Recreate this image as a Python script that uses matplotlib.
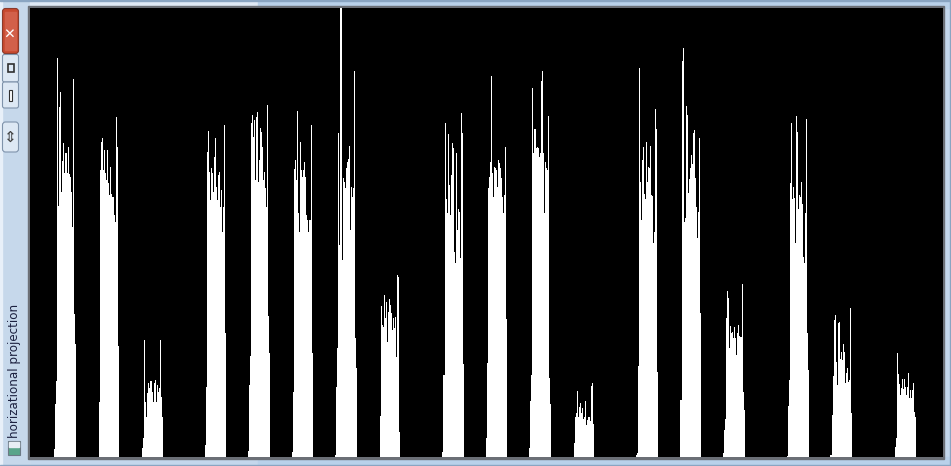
import numpy as np
import matplotlib
matplotlib.use("Agg")
import matplotlib.pyplot as plt
from matplotlib.patches import Rectangle, FancyBboxPatch

# histogram columns: (first column index, column heights in px), one entry per character
starts = [24, 69, 112, 175, 218, 262, 305, 350, 412, 456, 499, 544, 606, 650, 693, 757, 800, 865]

peak01 = [8, 53, 76, 399, 251, 350, 365, 265, 296, 314, 284, 304, 304, 284, 310, 283, 280, 265, 230, 378, 143, 113]
peak02 = [55, 287, 315, 319, 287, 307, 284, 277, 307, 274, 262, 290, 263, 260, 260, 242, 235, 340, 310, 111]
peak03 = [9, 19, 117, 55, 40, 64, 74, 69, 76, 76, 65, 55, 74, 77, 55, 72, 65, 69, 117, 60, 40]
peak04 = [12, 70, 305, 326, 285, 257, 289, 284, 265, 300, 319, 270, 257, 282, 285, 250, 267, 225, 250, 332, 124]
peak05 = [6, 72, 101, 334, 342, 320, 337, 277, 340, 345, 275, 297, 329, 325, 310, 277, 285, 269, 250, 352, 141, 104]
peak06 = [5, 65, 288, 297, 277, 346, 244, 225, 315, 287, 280, 287, 295, 280, 242, 237, 225, 237, 237, 332, 104]
peak07 = [2, 70, 109, 324, 212, 449, 449, 197, 279, 275, 269, 289, 295, 298, 311, 227, 270, 260, 269, 386, 119, 89]
peak08 = [41, 151, 132, 130, 162, 139, 155, 115, 145, 158, 152, 144, 127, 139, 129, 140, 100, 182, 180, 25]
peak09 = [5, 82, 82, 334, 258, 244, 323, 272, 242, 282, 314, 309, 205, 194, 304, 227, 248, 245, 199, 344, 324, 93]
peak10 = [19, 94, 269, 280, 295, 381, 284, 260, 290, 289, 287, 270, 297, 294, 289, 279, 260, 244, 262, 310, 138]
peak11 = [9, 56, 82, 369, 304, 328, 328, 309, 310, 309, 300, 304, 376, 386, 304, 244, 295, 289, 287, 341, 79, 53]
peak12 = [14, 40, 44, 66, 40, 50, 54, 44, 49, 38, 40, 56, 32, 37, 40, 40, 36, 71, 74, 33]
peak13 = [2, 4, 91, 389, 275, 237, 297, 310, 263, 258, 315, 275, 290, 289, 311, 262, 261, 214, 225, 348, 328, 85]
peak14 = [57, 57, 396, 409, 235, 239, 351, 342, 264, 278, 289, 302, 293, 324, 327, 279, 250, 219, 245, 319, 144]
peak15 = [4, 27, 38, 139, 166, 159, 109, 131, 124, 125, 119, 130, 119, 102, 124, 132, 121, 120, 120, 173, 65, 47]
peak16 = [1, 51, 77, 274, 334, 258, 270, 259, 214, 341, 325, 248, 262, 260, 275, 253, 200, 194, 244, 338, 124, 87]
peak17 = [2, 2, 42, 81, 137, 142, 95, 72, 134, 135, 98, 105, 97, 113, 105, 74, 84, 89, 75, 77, 149, 44]
peak18 = [10, 19, 104, 83, 73, 62, 69, 78, 68, 78, 70, 62, 70, 84, 59, 67, 59, 67, 74, 45, 40]

peaks = [peak01, peak02, peak03, peak04, peak05, peak06, peak07, peak08, peak09,
         peak10, peak11, peak12, peak13, peak14, peak15, peak16, peak17, peak18]

title = "horizational projection"

W, H = 951, 466
img_w, img_h = 913, 449

# build the projection array
proj = np.zeros(img_w)
for s, p in zip(starts, peaks):
    proj[s:s + len(p)] = p

fig = plt.figure(figsize=(W / 100, H / 100), dpi=100)
fig.patch.set_facecolor("#c4d7ec")

def px(x0, y0, w, h):
    # window pixel box -> figure fraction
    return (x0 / W, 1 - (y0 + h) / H, w / W, h / H)

# window frame bits
frame = fig.add_axes([0, 0, 1, 1])
frame.set_xlim(0, W)
frame.set_ylim(H, 0)
frame.axis("off")
frame.add_patch(Rectangle((0, 0), W, H, color="#c4d7ec"))
frame.add_patch(Rectangle((0, 0), 30, H, color="#c6d8eb"))
frame.add_patch(Rectangle((0, 0), 2, H, color="#e8f0f9"))
frame.add_patch(Rectangle((30, 0), 228, 8, color="#dfe9f5"))
frame.add_patch(Rectangle((258, 0), W - 258, 8, color="#b9d1ea"))
frame.add_patch(Rectangle((258, 457), W - 258, 9, color="#b9d1ea"))
frame.add_patch(Rectangle((0, 0), W, 1.2, color="#8aa5c2"))
frame.add_patch(Rectangle((W - 1.5, 0), 1.5, H, color="#8aa5c2"))
frame.add_patch(Rectangle((0, H - 1.5), W, 1.5, color="#8aa5c2"))
frame.add_patch(Rectangle((28, 6), W - 35, 453, color="#6b6f76"))

# buttons on the rotated title bar
frame.add_patch(FancyBboxPatch((2.5, 8.5), 16, 45, boxstyle="round,pad=0,rounding_size=3",
                               fc="#c7492f", ec="#8a3a2c", lw=0.8))
frame.add_patch(Rectangle((5, 12), 11, 38, color="#d2604a"))
frame.text(10.5, 31, "✕", color="white", fontsize=10, ha="center", va="center",
           rotation=90, fontweight="bold")
for y0, y1 in [(54.5, 82), (82, 108)]:
    frame.add_patch(FancyBboxPatch((2.5, y0), 16, y1 - y0, boxstyle="round,pad=0,rounding_size=2",
                                   fc="#dde8f4", ec="#7f93ab", lw=0.8))
frame.add_patch(Rectangle((7.5, 64), 6, 8, fc="none", ec="#303030", lw=1.2))
frame.add_patch(Rectangle((9, 90), 2.5, 11, fc="white", ec="#303030", lw=0.8))
frame.add_patch(FancyBboxPatch((2.5, 122), 16, 30, boxstyle="round,pad=0,rounding_size=3",
                               fc="#dde8f4", ec="#7f93ab", lw=0.8))
frame.text(10.5, 137.5, "⇕", color="#404040", fontsize=11, ha="center", va="center")
frame.add_patch(Rectangle((8, 441), 12, 14, fc="#5aa58a", ec="#6c7a86", lw=0.8))
frame.add_patch(Rectangle((9, 442), 10, 5, color="#e8eef4"))
frame.text(14.5, 438, title, rotation=90, ha="center", va="bottom", fontsize=8.6,
           color="#1c2140")

# the projection image
ax = fig.add_axes(px(30, 8, img_w, img_h))
ax.set_facecolor("black")
ax.bar(np.arange(img_w), proj, width=1.0, align="edge", color="white", linewidth=0)
ax.set_xlim(0, img_w)
ax.set_ylim(0, img_h)
ax.set_xticks([])
ax.set_yticks([])
for sp in ax.spines.values():
    sp.set_visible(False)

fig.savefig("out.png", dpi=100, facecolor=fig.get_facecolor())
